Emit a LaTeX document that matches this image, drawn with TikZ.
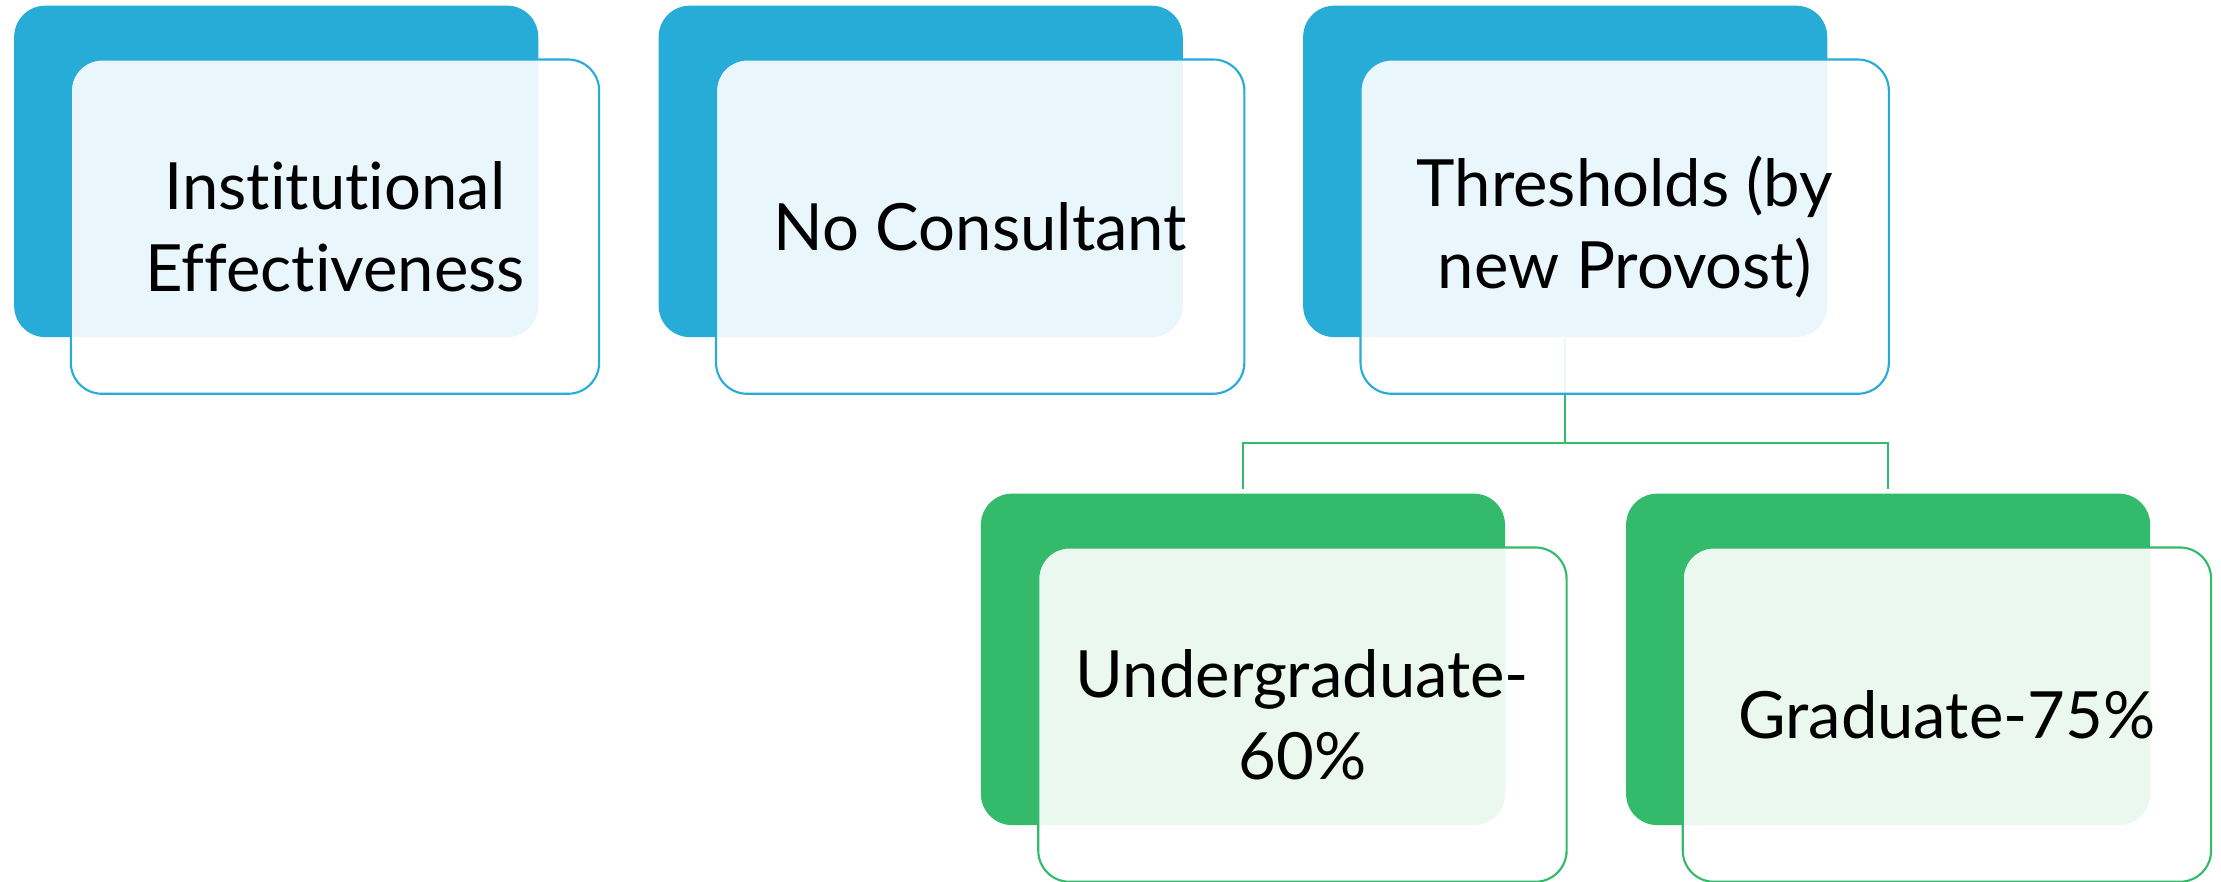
\documentclass[tikz,border=0pt]{standalone}
\usepackage{fontspec}
\setmainfont{Lato}[Ligatures={NoCommon}]
\definecolor{bblue}{HTML}{26ACD7}
\definecolor{ggreen}{HTML}{33BA6A}
\begin{document}
\begin{tikzpicture}[x=0.5pt,y=-0.5pt,
  backbox/.style={rounded corners=11pt, minimum width=185pt, minimum height=117pt, inner sep=0pt, draw=none, fill=#1},
  frontbox/.style={rounded corners=11pt, minimum width=186.5pt, minimum height=118pt, inner sep=0pt, draw=#1, line width=0.75pt, fill=white, fill opacity=0.9, text opacity=1, align=center, font=\fontsize{23}{29}\selectfont},
  link/.style={draw=ggreen, line width=0.75pt}]
\useasboundingbox (0,0) rectangle (1568,622);
% back boxes
\node[backbox=bblue] (b1) at (195,121) {};
\node[backbox=bblue] (b2) at (650,121) {};
\node[backbox=bblue] (b3) at (1105,121) {};
\node[backbox=ggreen] (g1) at (877.5,465.5) {};
\node[backbox=ggreen] (g2) at (1333,465.5) {};
% connectors
\coordinate (mid) at (1105,313);
\draw[link] (b3.south) -- (mid);
\draw[link] (g1.north) ++(0,-3) |- (mid) -| ([yshift=1.5pt]g2.north);
% front boxes
\node[frontbox=bblue] (f1) at (236.5,160) {Institutional\\Effectiveness};
\node[frontbox=bblue] (f2) at (692,160) {No Consultant};
\node[frontbox=bblue] (f3) at (1147,160) {Thresholds (by\\new Provost)};
\node[frontbox=ggreen] (h1) at (919.5,504.5) {Undergraduate-\\60\%};
\node[frontbox=ggreen] (h2) at (1374.5,504.5) {Graduate-75\%};
\end{tikzpicture}
\end{document}
